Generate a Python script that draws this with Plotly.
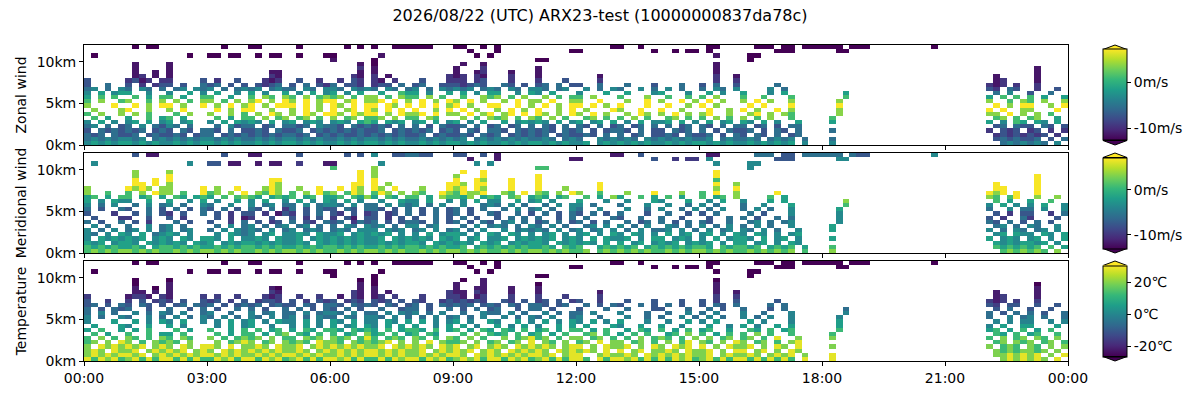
import numpy as np
import pandas as pd
import plotly.graph_objects as go

# ===============================
# data
# ===============================

TITLE = "2026/08/22 (UTC) ARX23-test (10000000837da78c)"
PANELS = ["Zonal wind", "Meridional wind", "Temperature"]

TIME_TICKS = ["00:00", "03:00", "06:00", "09:00", "12:00", "15:00", "18:00", "21:00", "00:00"]
ALT_TICKS = [0, 5, 10]
ALT_LABELS = ["0km", "5km", "10km"]

# one char per 10 min x 500 m cell, '.' = no data, digit = index in the level list
WIND_LEVELS = [-14.0, -11.5, -9.5, -7.5, -5.5, -3.5, -1.5, 1.0, 3.5, 7.0]
TEMP_LEVELS = [-30, -22, -16, -11, -6, -1, 5, 12, 19, 28]

# rows from 12 km (top) down to 0 km, one group of 6 cells per hour
ZONAL_ROWS = [
    "...... .0.00. ...... ..0... 00.... .0.... ..0.0. 0..000 000... 00..0. 0..... ...... .....0 0..0.. ...... .00... ..000. 00.000 000.00 0..... ....0. ...... ...... ......",
    "...... ...... ...... ...... ...... ...... ...... ...... ...... ..0... 0..... .....0 0..... .....0 ..0.00 .0.... .....0 00.... ..00.. ...... ...... ...... ...... ......",
    ".0.... ...... ...0.. 00.00. .0.00. .0...0 0..... .1.... ...... ...0.0 ...... ...... ...... ...... ...... ..1... .00... ...... ...... ...... ...... ...... ...... ......",
    "...... ...... ...... ...... ...... ...... 1..... 0..... ...... ...... ...... 00.... ...... ...... ...... ...... .0.... ...... ...... ...... ...... ...... ...... ......",
    "...... .1.... 1..... ...... ...... ...... ....1. 0..... ...... .1..1. ...... ...... ...... ...... ...... ..1... ...... ...... ...... ...... ...... ...... ...... ......",
    "...... .1.... 1..... ...... ...... ...... ....2. 1..... ...... 1...2. ...... 1..... ...... ...... ...... ..1... ...... ...... ...... ...... ...... ...... ...... .1....",
    "...... .1..1. 1..... ...... ...11. ...... ....1. 1..... ...... 1..12. ..1... 1..... ...... ...... ...... ..1... ...... ...... ...... ...... ...... ...... ...... .1....",
    "...... .12.1. 1..... ...... ...21. ...... ...21. 2.1... .....2 12.21. ..2... 1..... ...1.. ...... ...... ..2..1 ...... ...... ...... ...... ...... ...... .1.... .1....",
    "3..... 2312.2 2....3 .2..3. ..212. .3..2. .2.32. 21.2.. .3...2 22.23. ..2... 2...3. ...2.. ...... ...... ..2..2 ...... ...... ...... ...... ...... ...... .12... .1....",
    "3..4.. 3.2.23 3.3..4 34.3.3 .3234. 3.4.32 4.332. 233.4. 34..33 32343. .43.3. 34.4.3 3..4.. .4...3 ...4.. 3.4..3 .....4 ...... ...... ...... ...... ...... 212.2. .2....",
    "45.4.5 4.54.4 .45.54 5.4.45 45.454 4.54.5 54.545 4.54.4 5.4.54 545.45 4.54.5 54.45. .5.4.5 4..5.4 .5.4.. 4.54.5 ....5. 4..... ...... ...... ...... ...... 32.43. .2..3.",
    "5.6.56 6..5.. 5..6.5 .6..5. 6.5..6 .5.6.5 6.5.6. .6..76 6.5..6 .6.5.6 6..5.6 5.6... 5...6. .6...5 6...5. .6.5.. 6...5. 6..... ...6.. ...... ...... ...... .4.5.. 3..4..",
    "6.7.7. .7.6.7 7.6..7 7..6.. 7.87.8 7.8.78 78.7.8 8.7.87 7.8.7. .7..87 8.7.8. .8.7.7 7.8... 7...8. .7..7. 7.8... 7..7.. .7.... ...7.. ...... ...... ...... 6.7.7. 7.6..6",
    "7.8..7 8..7.8 .8.7.8 8.7.8. 89.8.9 8.9.89 9.89.8 89.9.8 .9.8.9 8.9.8. .8.9.8 8.9..8 8..9.. .8..9. 8..9.8 .9.8.. 8.9.8. .8.... ..8... ...... ...... ...... 8..7.8 7.8..8",
    "8...9. .9.8.9 9.8..9 .8.9.8 9.8.99 9.9.8. 98.9.9 9.98.9 .9.9.8 9.8..9 9..9.8 .9.8.9 9.9.8. 9...9. .9..8. 9.8... .9.9.. .9.... ..9... ...... ...... ...... .9.8.9 9..8.9",
    ".8...8 9..8.. 8.9... .9.8.9 9..8.. 8.9.8. 9.89.9 8.9.9. 9..8.9 .9.8.. 8.9.8. 9..8.9 .8...9 8..9.. 9..8.. .9..8. 9.8..9 .8.... ..8... ...... ...... ...... 9.9..8 8...9.",
    "7.8..8 .8.7.. .7.8.. 8..8.7 .8.98. 8.98.9 98.989 9.8.98 89.9.8 8.9.89 .89.9. 98.8.9 8.9.8. .8.98. 8.9.8. 89..8. .89.8. 87.... ..8... ...... ...... ...... 88.9.8 .8.7..",
    ".7.6.. 6..7.6 7.6... .7.6.7 7.8.78 .78.7. 8.78.7 78.8.7 7.87.. .8.7.8 78.7.8 7.8.7. .78.7. 7.8.7. .78.7. 7.8.7. 8.7.8. .7.... .7.... ...... ...... ...... .78.7. 78..6.",
    "5.6.5. 56.6.5 6.56.. 5.6.65 65.6.5 6.565. 565.67 6.656. 56.6.5 6.5.6. .6.565 65.6.5 6.56.6 .5.6.5 56.6.5 .6.56. 65.6.5 ..6... .6.... ...... ...... ...... 6.5.76 .65.6.",
    "45.4.3 4.5.43 54.4.. .4.534 4.34.4 434.54 43.434 343.4. 4.3.43 34.4.3 4.34.4 .43.4. 43.4.3 4.34.4 .4.34. 43.4.4 4.34.3 .44... ...... ...... ...... ...... .34.43 3.43.3",
    "3.4343 434.34 3.43.4 43.4.3 343.43 34.343 434343 34.343 434.34 3.43.4 43.434 343.43 4.3.34 43.4.3 3.434. 4.3.43 34.3.4 3.4... .4.... ...... ...... ...... 2.323. 23.2.2",
    "434.43 34.343 343.34 4.3434 343434 434.34 343343 434343 34.343 343.43 4.3434 34.343 343.4. 4.34.3 343.43 34.3.4 3.43.4 .34... ...... ...... ...... ...... .23232 323.2.",
    "454545 545.45 454545 545454 454545 545454 454545 545454 454545 45.454 545454 454.45 4..545 454.54 545454 45.454 454.45 45.4.. .4.... ...... ...... ...... .34343 34.3.4",
    "565656 656565 565656 656565 565656 656565 565656 656565 565656 656565 565656 656565 56.565 656565 565656 656565 565656 56.5.. .5.... ...... ...... ...... ..4545 454.5.",
]

MERID_ROWS = [
    "...... .3.11. ...... ..3... 11.... .3.... ..3.3. 5..334 433... 33..3. 1..... ...... .....1 1..3.. ...... .11... ..444. 33.444 444.43 3..... ....5. ...... ...... ......",
    "...... ...... ...... ...... ...... ...... ...... ...... ...... ..1... 1..... .....1 1..... .....3 ..2.22 .5.... .....3 33.... ..55.. ...... ...... ...... ...... ......",
    ".5.... ...... ...5.. 33.11. .1.11. .2...1 1..... .5.... ...... ...5.5 ...... ...... ...... ...... ...... ..5... .55... ...... ...... ...... ...... ...... ...... ......",
    "...... ...... ...... ...... ...... ...... 7..... 8..... ...... ...... ...... 77.... ...... ...... ...... ...... .5.... ...... ...... ...... ...... ...... ...... ......",
    "...... .8.... 8..... ...... ...... ...... ....9. 8..... ...... .9..9. ...... ...... ...... ...... ...... ..9... ...... ...... ...... ...... ...... ...... ...... ......",
    "...... .8.... 9..... ...... ...... ...... ....9. 8..... ...... 8...9. ...... 9..... ...... ...... ...... ..9... ...... ...... ...... ...... ...... ...... ...... .9....",
    "...... .9..9. 9..... ...... ...99. ...... ....9. 9..... ...... 9..98. ..9... 9..... ...... ...... ...... ..7... ...... ...... ...... ...... ...... ...... ...... .9....",
    "...... .99.9. 8..... ...... ...98. ...... ...99. 9.8... .....9 98.99. ..9... 9..... ...9.. ...... ...... ..9..8 ...... ...... ...... ...... ...... ...... .9.... .9....",
    "8..... 9898.8 8....9 .8..9. ..898. .8..9. .9.98. 98.9.. .8...9 89.98. ..9... 9...8. ...9.. ...... ...... ..8..9 ...... ...... ...... ...... ...... ...... .99... .9....",
    "8..7.. 7.8.98 8.7..9 78.8.9 .8798. 7.8.97 8.798. 798.8. 87..98 79889. .87.9. 87.8.9 8..7.. .8...9 ...8.. 7.9..8 .....9 ...... ...... ...... ...... ...... 989.9. .9....",
    "67.6.7 7.67.6 .76.67 6.7.78 76.676 7.67.6 67.768 6.76.7 7.6.87 768.67 6.78.6 76.67. .7.6.8 6..7.6 .7.6.. 7.67.8 ....7. 6..... ...... ...... ...... ...... 87.79. .8..8.",
    "6.5.65 5..6.. 6..5.6 .5..6. 5.6..5 .6.5.6 5.6.5. .5..65 5.6..5 .5.6.5 5..6.5 6.5... 6...5. .5...6 5...6. .5.6.. 5...6. 6..... ...8.. ...... ...... ...... .7.6.. 6..7..",
    "5.4.5. .4.5.4 5.4..5 4..5.. 5.45.4 4.5.45 54.5.4 4.5.54 5.4.5. .5..45 4.5.4. .4.5.5 5.4... 4...5. .5..4. 5.4... 4..5.. .6.... ...7.. ...... ...... ...... 5.6.5. 5.6..5",
    "4.3..4 3..4.3 .4.3.4 3.4.3. 43.4.2 4.3.43 3.43.4 43.3.4 .3.4.3 4.3.4. .4.5.4 5.4..5 4..5.. .5..4. 5..4.5 .4.5.. 4.5.4. .5.... ..6... ...... ...... ...... 4..5.4 4.5..5",
    "3...2. .3.4.3 2.3..4 .3.2.3 3.2.13 2.3.4. 32.3.2 3.23.4 .3.4.3 4.3..4 3..4.3 .4.3.4 3.4.3. 4...3. .4..3. 3.4... .4.3.. .5.... ..5... ...... ...... ...... .3.2.3 3..2.4",
    ".3...2 2..3.. 3.2... .3.2.1 2..3.. 3.2.3. 2.31.3 3.2.3. 3..4.3 .4.3.. 3.4.4. 4..3.4 .4...4 3..4.. 4..3.. .3..4. 4.3..4 .4.... ..5... ...... ...... ...... 3.2..4 2...3.",
    "4.3..4 .3.2.. .4.3.. 3..2.4 .3.23. 4.32.4 34.243 4.3.34 43.4.3 4.3.43 .45.4. 34.4.3 4.3.4. .4.34. 4.3.4. 43..4. .45.4. 45.... ..5... ...... ...... ...... 43.4.3 .4.3..",
    ".5.4.. 4..5.4 5.4... .4.5.4 5.4.45 .45.4. 4.54.5 45.4.5 5.45.. .4.5.4 54.4.5 4.5.4. .45.5. 5.4.5. .54.4. 5.4.5. 4.5.4. .5.... .6.... ...... ...... ...... .45.4. 54..5.",
    "5.4.5. 45.5.4 5.45.. 4.5.54 54.5.4 5.454. 454.55 5.545. 45.5.4 5.4.5. .5.454 54.5.4 5.45.5 .4.5.4 45.5.4 .5.45. 54.5.4 ..5... .6.... ...... ...... ...... 5.4.54 .45.5.",
    "54.5.6 5.6.45 65.5.. .5.654 5.56.5 565.65 56.565 656.5. 5.6.56 65.5.6 5.65.5 .56.5. 56.5.6 5.65.5 .6.56. 56.5.6 5.65.5 .56... ...... ...... ...... ...... .56.65 5.65.6",
    "5.6565 656.56 5.65.6 65.6.5 565.65 56.565 656565 56.656 565.65 6.56.5 56.565 656.56 5.6.65 56.5.6 6.565. 5.6.56 65.6.5 6.5... .6.... ...... ...... ...... 6.565. 56.5.6",
    "656.56 65.656 565.65 6.5656 656565 565.65 656565 565656 65.656 565.65 6.5656 65.656 565.6. 6.56.5 656.56 56.5.6 6.56.5 .65... ...... ...... ...... ...... .65656 656.5.",
    "767676 676.67 767676 676767 767676 676767 767676 676767 767676 67.676 767676 676.76 7..676 767.67 676767 76.767 767.67 67.6.. .7.... ...... ...... ...... .76767 67.7.6",
    "787878 878787 787878 878787 787878 878787 787878 878787 787878 878787 787878 878787 78.787 878787 787878 878787 787878 78.7.. .8.... ...... ...... ...... ..7878 787.8.",
]

TEMP_ROWS = [
    "...... .0.00. ...... ..0... 00.... .0.... ..0.0. 0..000 000... 00..0. 0..... ...... .....0 0..0.. ...... .00... ..000. 00.000 000.00 0..... ....0. ...... ...... ......",
    "...... ...... ...... ...... ...... ...... ...... ...... ...... ..0... 0..... .....0 0..... .....0 ..0.00 .0.... .....0 00.... ..00.. ...... ...... ...... ...... ......",
    ".0.... ...... ...0.. 00.00. .0.00. .0...0 0..... .0.... ...... ...0.0 ...... ...... ...... ...... ...... ..0... .00... ...... ...... ...... ...... ...... ...... ......",
    "...... ...... ...... ...... ...... ...... 0..... 0..... ...... ...... ...... 00.... ...... ...... ...... ...... .0.... ...... ...... ...... ...... ...... ...... ......",
    "...... .0.... 0..... ...... ...... ...... ....0. 0..... ...... .0..1. ...... ...... ...... ...... ...... ..0... ...... ...... ...... ...... ...... ...... ...... ......",
    "...... .0.... 1..... ...... ...... ...... ....1. 0..... ...... 1...1. ...... 0..... ...... ...... ...... ..1... ...... ...... ...... ...... ...... ...... ...... .0....",
    "...... .1..0. 1..... ...... ...10. ...... ....1. 1..... ...... 1..11. ..1... 1..... ...... ...... ...... ..1... ...... ...... ...... ...... ...... ...... ...... .1....",
    "...... .11.1. 1..... ...... ...21. ...... ...21. 1.1... .....2 11.21. ..1... 1..... ...1.. ...... ...... ..1..1 ...... ...... ...... ...... ...... ...... .1.... .1....",
    "2..... 1221.2 1....2 .2..2. ..212. .2..2. .1.21. 12.2.. .2...2 21.12. ..2... 2...2. ...2.. ...... ...... ..2..2 ...... ...... ...... ...... ...... ...... .12... .1....",
    "3..2.. 2.3.23 2.3..3 23.2.3 .2332. 3.2.32 3.232. 323.3. 32..23 23232. .32.3. 23.3.2 3..2.. .3...3 ...3.. 3.2..3 .....3 ...... ...... ...... ...... ...... 212.2. .2....",
    "34.3.4 3.43.3 .34.43 4.3.34 34.343 3.43.4 43.434 3.43.3 4.3.43 434.34 3.43.4 43.34. .4.3.4 3..4.3 .4.3.. 3.43.4 ....4. 4..... ...... ...... ...... ...... 32.33. .3..3.",
    "4.3.43 4..3.. 4..3.4 .3..4. 4.3..4 .4.3.4 3.4.3. .4..34 4.3..4 .3.4.3 4..3.4 4.3... 3...4. .4...3 3...4. .4.3.. 4...3. 4..... ...4.. ...... ...... ...... .3.4.. 3..3..",
    "4.5.4. .5.4.5 4.5..4 5..4.. 5.45.4 4.5.45 54.5.4 4.5.54 5.4.5. .4..54 4.5.4. .5.4.4 4.5... 5...4. .4..5. 4.5... 5..4.. .5.... ...5.. ...... ...... ...... 4.3.4. 4.3..4",
    "5.4..5 4..5.4 .5.4.5 4.5.4. 54.5.4 5.4.54 4.54.5 54.5.4 .4.5.4 5.4.5. .5.4.5 4.5..4 5..4.. .5..4. 4..5.4 .5.4.. 5.4.5. .5.... ..5... ...... ...... ...... 4..5.4 5.4..4",
    "5...6. .6.5.6 5.6..5 .5.6.5 6.5.65 5.6.5. 65.6.5 5.65.6 .6.5.5 6.5..6 5..6.5 .6.5.6 5.6.5. 6...5. .5..6. 5.6... .6.5.. .5.... ..6... ...... ...... ...... .5.5.5 5..5.5",
    ".6...6 5..6.. 6.5... .5.6.5 6..5.. 5.6.5. 6.56.6 5.6.6. 6..5.6 .6.5.. 6.5.6. 5..6.6 .6...6 5..6.. 6..5.. .6..5. 6.5..6 .6.... ..6... ...... ...... ...... 5.6..6 6...6.",
    "6.7..6 .6.7.. .7.6.. 7..6.7 .7.67. 6.76.7 76.767 6.7.67 76.7.6 7.6.76 .76.7. 67.6.7 7.6.7. .6.76. 7.6.7. 67..6. .76.7. 67.... ..7... ...... ...... ...... 67.6.7 .6.7..",
    ".7.6.. 7..7.6 6.7... .7.6.7 7.6.78 .76.7. 7.67.8 67.7.6 7.76.. .7.8.7 67.7.6 7.6.7. .78.7. 6.7.7. .67.8. 7.6.7. 7.8.7. .7.... .7.... ...... ...... ...... .76.7. 67..7.",
    "7.8.7. 87.7.8 7.87.. 8.7.78 78.8.7 7.878. 878.79 7.787. 87.7.8 7.8.7. .8.789 78.7.8 8.78.7 .7.8.7 87.7.8 .8.78. 78.7.9 ..8... .8.... ...... ...... ...... 7.8.78 .87.8.",
    "78.8.9 8.7.87 87.8.. .8.789 8.78.8 787.98 87.878 789.8. 8.9.87 78.8.7 8.78.9 .87.8. 78.9.8 8.78.7 .8.79. 87.8.9 8.78.7 .89... ...... ...... ...... ...... .78.87 8.78.7",
    "8.9898 989.89 8.98.9 98.9.8 898.98 89.898 989898 89.989 898.98 9.89.8 98.989 898.89 9.8.98 89.8.9 8.989. 9.8.98 89.8.9 8.9... .8.... ...... ...... ...... 8.787. 87.8.8",
    "898.98 89.898 989.89 8.9898 989898 898.89 898989 989898 89.898 989.89 8.9898 98.989 898.9. 9.89.8 898.98 89.8.9 9.89.8 .98... ...... ...... ...... ...... .87878 878.8.",
    "898989 989.89 898989 989898 898989 989898 898989 989898 898989 98.989 898989 989.89 9..898 898.98 989898 89.898 898.89 89.8.. .9.... ...... ...... ...... .88989 89.8.9",
    "979897 897979 979797 798979 979897 897979 989797 797989 979897 898979 979897 897979 97.979 989797 979897 897979 979797 97.9.. .9.... ...... ...... ...... ..8989 898.9.",
]

ZONAL_RANGE = [-12.7, 7.1]
MERID_RANGE = [-13.0, 7.2]
TEMP_RANGE = [-26.5, 30.3]

WIND_TICKS = [0, -10]
WIND_TICKTEXT = ["0m/s", "-10m/s"]
TEMP_TICKS = [20, 0, -20]
TEMP_TICKTEXT = ["20℃", "0℃", "-20℃"]

# ===============================
# grid helpers
# ===============================

N_COLS = 144
times = pd.date_range("2026-08-22 00:05", periods=N_COLS, freq="10min")
alts = np.arange(0.25, 12.0, 0.5)


def to_grid(rows, levels):
    z = []
    for row in reversed(rows):
        cells = row.replace(" ", "").ljust(N_COLS, ".")[:N_COLS]
        z.append([np.nan if c == "." else levels[int(c)] for c in cells])
    return z


# pixel layout (figure 1200 x 400)
L, R, T, B = 84, 1068, 45, 361
W, H = R - L, B - T


def px_x(x):
    return (x - L) / W


def px_y(y):
    return (B - y) / H


panel_px = [(45, 145), (153, 253), (261, 361)]
font = dict(family="DejaVu Sans", size=14, color="black")

fig = go.Figure()

series = [
    (ZONAL_ROWS, WIND_LEVELS, ZONAL_RANGE, WIND_TICKS, WIND_TICKTEXT),
    (MERID_ROWS, WIND_LEVELS, MERID_RANGE, WIND_TICKS, WIND_TICKTEXT),
    (TEMP_ROWS, TEMP_LEVELS, TEMP_RANGE, TEMP_TICKS, TEMP_TICKTEXT),
]

cb_left, cb_right = 1103, 1127
shapes = []

for i, (rows, levels, zr, tv, tt) in enumerate(series):
    top, bot = panel_px[i]
    center = (top + bot) / 2
    tri = (bot - top) * 0.045
    fig.add_trace(go.Heatmap(
        x=times, y=alts, z=to_grid(rows, levels),
        zmin=zr[0], zmax=zr[1], colorscale="Viridis",
        hoverongaps=False,
        xaxis="x" if i == 0 else f"x{i + 1}",
        yaxis="y" if i == 0 else f"y{i + 1}",
        colorbar=dict(
            x=px_x(cb_left), xanchor="left", xpad=0,
            y=px_y(center), yanchor="middle", ypad=0,
            len=(bot - top) - 2 * tri, lenmode="pixels",
            thickness=cb_right - cb_left, thicknessmode="pixels",
            outlinewidth=1, outlinecolor="black",
            tickvals=tv, ticktext=tt, ticks="outside", ticklen=4,
            tickcolor="black", tickfont=font,
        ),
    ))
    # extend triangles of the colorbar
    xl, xr, xc = px_x(cb_left), px_x(cb_right), px_x((cb_left + cb_right) / 2)
    yb_top, ya_top = px_y(top + tri), px_y(top)
    yb_bot, ya_bot = px_y(bot - tri), px_y(bot)
    shapes.append(dict(type="path", xref="paper", yref="paper",
                       path=f"M {xl},{yb_top} L {xc},{ya_top} L {xr},{yb_top} Z",
                       fillcolor="#fde725", line=dict(color="black", width=1)))
    shapes.append(dict(type="path", xref="paper", yref="paper",
                       path=f"M {xl},{yb_bot} L {xc},{ya_bot} L {xr},{yb_bot} Z",
                       fillcolor="#440154", line=dict(color="black", width=1)))

tick_times = pd.date_range("2026-08-22 00:00", periods=len(TIME_TICKS), freq="3h")

layout = dict(
    width=1200, height=400,
    margin=dict(l=L, r=1200 - R, t=T, b=400 - B, autoexpand=False),
    paper_bgcolor="white", plot_bgcolor="white",
    font=font,
    showlegend=False,
    shapes=shapes,
    title=dict(text=TITLE, x=0.5, xref="container", xanchor="center",
               y=1 - 15 / 400, yref="container", yanchor="middle",
               font=dict(family="DejaVu Sans", size=16, color="black")),
)

for i, name in enumerate(PANELS):
    top, bot = panel_px[i]
    sfx = "" if i == 0 else str(i + 1)
    layout[f"xaxis{sfx}"] = dict(
        domain=[0, 1], anchor=f"y{sfx}",
        range=[tick_times[0], tick_times[-1]],
        tickmode="array", tickvals=list(tick_times), ticktext=TIME_TICKS,
        showticklabels=(i == 2),
        ticks="outside", ticklen=4, tickcolor="black",
        showline=True, mirror=True, linecolor="black", linewidth=1,
        showgrid=False, zeroline=False, automargin=False,
        matches=None if i == 2 else "x3",
    )
    layout[f"yaxis{sfx}"] = dict(
        domain=[px_y(bot), px_y(top)], anchor=f"x{sfx}",
        range=[0, 12],
        tickmode="array", tickvals=ALT_TICKS, ticktext=ALT_LABELS,
        ticks="outside", ticklen=4, tickcolor="black",
        showline=True, mirror=True, linecolor="black", linewidth=1,
        showgrid=False, zeroline=False, automargin=False,
        title=dict(text=name, standoff=6, font=font),
    )

fig.update_layout(**layout)

# the page body has a default 8px margin; drop it so the figure sits at 0,0
fig.write_html("out.html", config={"displayModeBar": False},
               post_script="document.body.style.margin='0';")
